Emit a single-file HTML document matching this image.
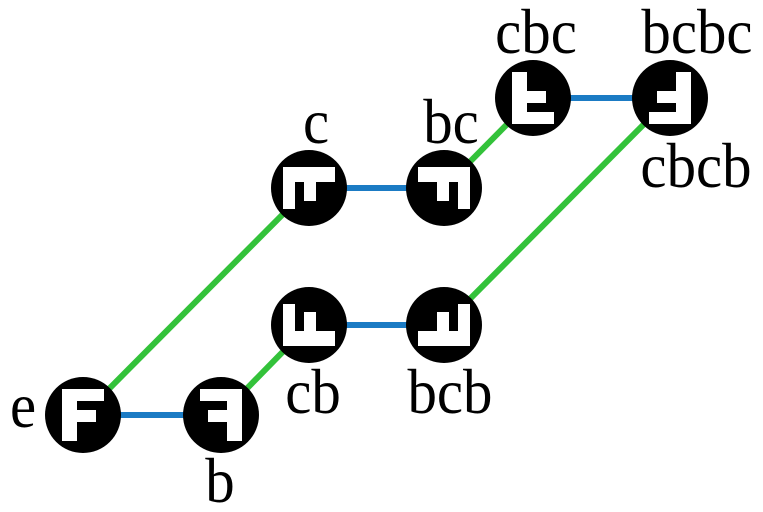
<!DOCTYPE html>
<html><head><meta charset="utf-8"><style>html,body{margin:0;padding:0;background:#fff}svg{display:block}</style></head>
<body>
<svg width="763" height="512" viewBox="0 0 763 512" xmlns="http://www.w3.org/2000/svg">
<defs>
<g id="F"><path d="M-21,-26 H21 V-14 H-6 V-5 H13 V7 H-6 V26 H-21 Z" fill="#fff"/></g>
</defs>
<g stroke-width="6" fill="none">
<line x1="83" y1="415" x2="309" y2="188" stroke="#33c23a"/>
<line x1="221" y1="415" x2="309" y2="325" stroke="#33c23a"/>
<line x1="444" y1="188" x2="533" y2="98" stroke="#33c23a"/>
<line x1="444" y1="325" x2="670" y2="98" stroke="#33c23a"/>
<line x1="83" y1="415" x2="221" y2="415" stroke="#1b7bc4"/>
<line x1="309" y1="325" x2="444" y2="325" stroke="#1b7bc4"/>
<line x1="309" y1="188" x2="444" y2="188" stroke="#1b7bc4"/>
<line x1="533" y1="98" x2="670" y2="98" stroke="#1b7bc4"/>
</g>
<g fill="#000">
<circle cx="83" cy="415" r="38"/><circle cx="221" cy="415" r="38"/>
<circle cx="309" cy="325" r="38"/><circle cx="444" cy="325" r="38"/>
<circle cx="309" cy="188" r="38"/><circle cx="444" cy="188" r="38"/>
<circle cx="533" cy="98" r="38"/><circle cx="670" cy="98" r="38"/>
</g>
<use href="#F" transform="translate(83,415)"/>
<use href="#F" transform="translate(221,415) matrix(-1,0,0,1,0,0)"/>
<use href="#F" transform="translate(309,188) matrix(0,1,1,0,0,0)"/>
<use href="#F" transform="translate(444,188) matrix(0,1,-1,0,0,0)"/>
<use href="#F" transform="translate(309,325) matrix(0,-1,1,0,0,0)"/>
<use href="#F" transform="translate(444,325) matrix(0,-1,-1,0,0,0)"/>
<use href="#F" transform="translate(533,98) matrix(1,0,0,-1,0,0)"/>
<use href="#F" transform="translate(670,98) matrix(-1,0,0,-1,0,0)"/>
<g font-family="'Liberation Serif', serif" font-size="64" text-anchor="middle" fill="#000">
<text transform="translate(23,427) scale(0.92,1)">e</text>
<text transform="translate(220,502) scale(0.92,1)">b</text>
<text transform="translate(313,413) scale(0.92,1)">cb</text>
<text transform="translate(450,413) scale(0.92,1)">bcb</text>
<text transform="translate(316,143) scale(0.92,1)">c</text>
<text transform="translate(451,143) scale(0.92,1)">bc</text>
<text transform="translate(536,53) scale(0.92,1)">cbc</text>
<text transform="translate(697,53) scale(0.92,1)">bcbc</text>
<text transform="translate(696,187) scale(0.92,1)">cbcb</text>
</g>
</svg>
</body></html>
